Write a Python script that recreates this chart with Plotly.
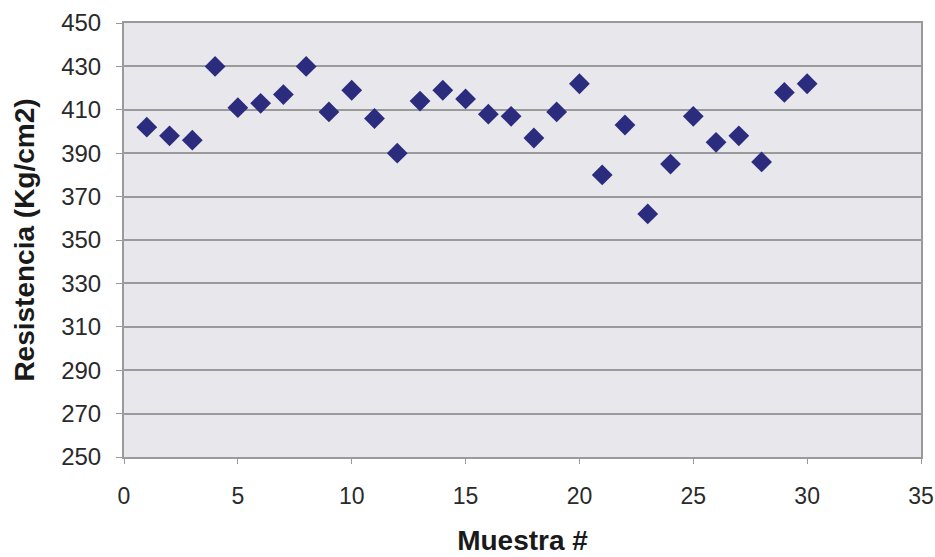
import plotly.graph_objects as go

# Compressive strength per sample
muestra = list(range(1, 31))
resistencia = [402, 398, 396, 430, 411, 413, 417, 430, 409, 419,
               406, 390, 414, 419, 415, 408, 407, 397, 409, 422,
               380, 403, 362, 385, 407, 395, 398, 386, 418, 422]

x_ticks = [0, 5, 10, 15, 20, 25, 30, 35]
y_ticks = list(range(250, 451, 20))

font_family = "Liberation Sans, Arial, sans-serif"
grid_color = "#9a9a9a"
label_color = "#2a2a2a"

fig = go.Figure()
fig.add_trace(go.Scatter(
    x=muestra, y=resistencia, mode="markers",
    marker=dict(symbol="diamond", size=16, color="#2c2c7e",
                line=dict(width=0)),
    showlegend=False,
    cliponaxis=False,
))

fig.update_layout(
    width=935, height=557,
    margin=dict(l=124, r=14, t=23, b=100),
    paper_bgcolor="white",
    plot_bgcolor="#e8e8ec",
    font=dict(family=font_family, color=label_color, size=22),
)

fig.update_xaxes(
    range=[0, 35], tickvals=x_ticks, ticktext=[str(v) for v in x_ticks],
    automargin=False,
    showgrid=False, zeroline=False,
    showline=True, linecolor=grid_color, linewidth=2, mirror=True,
    ticks="outside", ticklen=5, tickcolor=grid_color, tickwidth=1,
    ticklabelstandoff=12,
    tickfont=dict(size=23, color=label_color),
    title=dict(text="<b>Muestra #</b>", font=dict(size=28, color="#1a1a1a"),
               standoff=23),
)

fig.update_yaxes(
    range=[250, 450], tickvals=y_ticks, ticktext=[str(v) for v in y_ticks],
    automargin=False,
    showgrid=True, gridcolor=grid_color, gridwidth=2, zeroline=False,
    showline=True, linecolor=grid_color, linewidth=2, mirror=True,
    ticks="outside", ticklen=6, tickcolor=grid_color, tickwidth=1,
    ticklabelstandoff=10,
    tickfont=dict(size=24, color=label_color),
    title=dict(text="<b>Resistencia (Kg/cm2)</b>", font=dict(size=28, color="#1a1a1a"),
               standoff=18),
)

fig.write_html("out.html")
